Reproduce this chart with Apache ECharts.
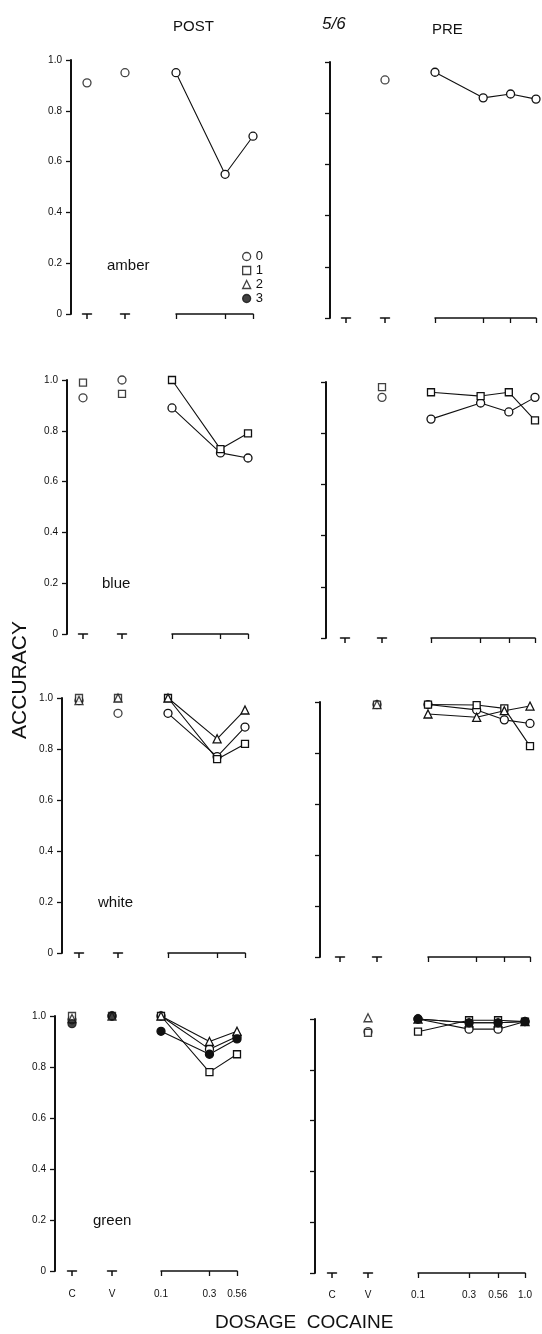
<!DOCTYPE html>
<html><head><meta charset="utf-8">
<script src="https://cdn.jsdelivr.net/npm/echarts@6/dist/echarts.min.js"></script>
<style>html,body{margin:0;padding:0;background:#fff}#c{width:542px;height:1334px}</style>
</head><body><div id="c"></div>
<script>
// ---------- DATA ----------
const SERIES_NAMES = ['0', '1', '2', '3'];
const CONTROL_CATS = ['C', 'V'];
const DOSES_POST = [0.1, 0.3, 0.56];
const DOSES_PRE = [0.1, 0.3, 0.56, 1.0];
const DOSE_TICK_LABELS = ['0.1', '0.3', '0.56', '1.0'];
const Y_TICK_LABELS = ['0', '0.2', '0.4', '0.6', '0.8', '1.0'];
const COLOR_NAMES = ['amber', 'blue', 'white', 'green'];

// control values per series: [C, V]
const AMBER_POST_CONTROL = [[0.91, 0.95]];
const AMBER_POST_DOSE = [[0.95, 0.55, 0.70]];
const AMBER_PRE_CONTROL = [[null, 0.93]];
const AMBER_PRE_DOSE = [[0.96, 0.86, 0.875, 0.855]];

const BLUE_POST_CONTROL = [[0.93, 1.0], [0.99, 0.945]];
const BLUE_POST_DOSE = [[0.89, 0.713, 0.693], [1.0, 0.728, 0.79]];
const BLUE_PRE_CONTROL = [[null, 0.94], [null, 0.98]];
const BLUE_PRE_DOSE = [[0.855, 0.918, 0.883, 0.94], [0.96, 0.945, 0.96, 0.85]];

const WHITE_POST_CONTROL = [[0.99, 0.94], [1.0, 1.0], [0.99, 1.0]];
const WHITE_POST_DOSE = [[0.94, 0.77, 0.886], [1.0, 0.76, 0.82], [1.0, 0.84, 0.953]];
const WHITE_PRE_CONTROL = [[null, 0.99], [null, 0.99], [null, 0.99]];
const WHITE_PRE_DOSE = [[0.99, 0.969, 0.93, 0.916], [0.99, 0.988, 0.975, 0.827], [0.953, 0.94, 0.966, 0.984]];

const GREEN_POST_CONTROL = [[0.985, 1.0], [1.0, 1.0], [0.99, 1.0], [0.97, 1.0]];
const GREEN_POST_DOSE = [[1.0, 0.87, 0.92], [1.0, 0.78, 0.85], [1.0, 0.90, 0.94], [0.94, 0.85, 0.91]];
const GREEN_PRE_CONTROL = [[null, 0.95], [null, 0.945], [null, 1.005], [null, null]];
const GREEN_PRE_DOSE = [[1.0, 0.96, 0.96, 0.99], [0.95, 0.995, 0.995, 0.99], [1.0, 0.985, 0.985, 0.99], [1.0, 0.985, 0.985, 0.99]];

const ROWS = [
  { post: { control: AMBER_POST_CONTROL, dose: AMBER_POST_DOSE }, pre: { control: AMBER_PRE_CONTROL, dose: AMBER_PRE_DOSE } },
  { post: { control: BLUE_POST_CONTROL, dose: BLUE_POST_DOSE }, pre: { control: BLUE_PRE_CONTROL, dose: BLUE_PRE_DOSE } },
  { post: { control: WHITE_POST_CONTROL, dose: WHITE_POST_DOSE }, pre: { control: WHITE_PRE_CONTROL, dose: WHITE_PRE_DOSE } },
  { post: { control: GREEN_POST_CONTROL, dose: GREEN_POST_DOSE }, pre: { control: GREEN_PRE_CONTROL, dose: GREEN_PRE_DOSE } }
];

// ---------- LAYOUT (pixels) ----------
const LAYOUT = {
  post: [
    { axisX: 71, top: 60, bottom: 314, cX: 87, vX: 125, d0: 176, d1: 253, xAxisY: 323, labelX: 102, labelY: 262 },
    { axisX: 67, top: 380, bottom: 634, cX: 83, vX: 122, d0: 172, d1: 248, xAxisY: 644, labelX: 97, labelY: 580 },
    { axisX: 62, top: 698, bottom: 953, cX: 79, vX: 118, d0: 168, d1: 245, xAxisY: 963, labelX: 93, labelY: 899 },
    { axisX: 55, top: 1016, bottom: 1271, cX: 72, vX: 112, d0: 161, d1: 237, xAxisY: 1281, labelX: 88, labelY: 1217 }
  ],
  pre: [
    { axisX: 330, top: 62, bottom: 318, cX: 346, vX: 385, d0: 435, d1: 536, xAxisY: 328 },
    { axisX: 326, top: 382, bottom: 638, cX: 345, vX: 382, d0: 431, d1: 535, xAxisY: 649 },
    { axisX: 320, top: 702, bottom: 957, cX: 340, vX: 377, d0: 428, d1: 530, xAxisY: 967 },
    { axisX: 315, top: 1019, bottom: 1273, cX: 332, vX: 368, d0: 418, d1: 525, xAxisY: 1282 }
  ]
};

const INK = '#111';
const FONT = 'Liberation Sans';
const SYMBOLS = ['circle', 'rect', 'triangle', 'circle'];
const SIZES = [8, 7, 8, 8];
const FILLS = ['#fff', '#fff', '#fff', INK];

function itemStyleFor(k) {
  return { color: FILLS[k], borderColor: INK, borderWidth: 1.3 };
}

const grids = [], xAxes = [], yAxes = [], series = [];
function addGrid(g, xa, ya) {
  grids.push(g);
  const i = grids.length - 1;
  xa.gridIndex = i; ya.gridIndex = i;
  xAxes.push(xa); yAxes.push(ya);
  return i;
}
const hiddenY = () => ({ type: 'value', min: 0, max: 1, show: false });

ROWS.forEach((row, r) => {
  ['post', 'pre'].forEach(side => {
    const L = LAYOUT[side][r];
    const h = L.bottom - L.top;
    const isBottom = r === ROWS.length - 1;
    const doses = side === 'post' ? DOSES_POST : DOSES_PRE;
    const ctrl = row[side].control, dose = row[side].dose;

    // frame grid carrying the y axis
    addGrid({ left: L.axisX, top: L.top, width: 1, height: h },
      { type: 'value', show: false, min: 0, max: 1 },
      {
        type: 'value', min: 0, max: 1, interval: 0.2,
        axisLine: { show: true, lineStyle: { color: INK, width: 2 } },
        axisTick: { show: true, length: 5, lineStyle: { color: INK, width: 1.3 } },
        axisLabel: {
          show: side === 'post', margin: 9, color: INK, fontFamily: FONT, fontSize: 10,
          formatter: v => Y_TICK_LABELS[Math.round(v * 5)]
        },
        splitLine: { show: false }
      });

    // control (C, V) mini grids – each axis draws a "T"
    CONTROL_CATS.forEach((cat, ci) => {
      const cx = ci === 0 ? L.cX : L.vX;
      const gi = addGrid({ left: cx - 4.5, top: L.top, width: 9, height: h },
        {
          type: 'category', data: [cat], boundaryGap: true, offset: L.xAxisY - L.bottom,
          axisLine: { show: true, lineStyle: { color: INK, width: 1.5 } },
          axisTick: { show: true, alignWithLabel: true, length: 5, lineStyle: { color: INK, width: 1.5 } },
          axisLabel: { show: isBottom, margin: 8, color: INK, fontFamily: FONT, fontSize: 10 }
        },
        hiddenY());
      ctrl.forEach((vals, k) => {
        if (vals[ci] == null) return;
        series.push({
          type: 'scatter', name: SERIES_NAMES[k], xAxisIndex: gi, yAxisIndex: gi,
          data: [[cat, vals[ci]]], symbol: SYMBOLS[k], symbolSize: SIZES[k],
          itemStyle: itemStyleFor(k), clip: false
        });
      });
    });

    // dose grid on a log axis
    const gi = addGrid({ left: L.d0, top: L.top, width: L.d1 - L.d0, height: h },
      {
        type: 'log', logBase: 10, min: doses[0], max: doses[doses.length - 1],
        offset: L.xAxisY - L.bottom,
        axisLine: { show: true, lineStyle: { color: INK, width: 1.5 } },
        axisTick: { show: true, customValues: doses, length: 5, lineStyle: { color: INK, width: 1.3 } },
        axisLabel: {
          show: isBottom, customValues: doses, margin: 8, color: INK, fontFamily: FONT, fontSize: 10,
          formatter: v => {
            let best = 0;
            DOSES_PRE.forEach((d, i) => { if (Math.abs(d - v) < Math.abs(DOSES_PRE[best] - v)) best = i; });
            return DOSE_TICK_LABELS[best];
          }
        },
        splitLine: { show: false }, minorTick: { show: false }
      },
      hiddenY());
    dose.forEach((vals, k) => {
      series.push({
        type: 'line', name: SERIES_NAMES[k], xAxisIndex: gi, yAxisIndex: gi,
        data: doses.map((d, i) => [d, vals[i]]),
        symbol: SYMBOLS[k], symbolSize: SIZES[k], showSymbol: true,
        lineStyle: { color: INK, width: 1.1 }, itemStyle: itemStyleFor(k), clip: false
      });
    });
  });
});

const titles = [
  { text: 'POST', left: 168, top: 14, textStyle: { fontFamily: FONT, fontSize: 15, fontWeight: 'normal', color: INK } },
  { text: '5/6', left: 317, top: 11, textStyle: { fontFamily: FONT, fontSize: 17, fontStyle: 'italic', fontWeight: 'normal', color: INK } },
  { text: 'PRE', left: 427, top: 17, textStyle: { fontFamily: FONT, fontSize: 15, fontWeight: 'normal', color: INK } },
  { text: 'DOSAGE  COCAINE', left: 210, top: 1308, textStyle: { fontFamily: FONT, fontSize: 19, fontWeight: 'normal', color: INK } }
];
COLOR_NAMES.forEach((name, r) => {
  const L = LAYOUT.post[r];
  titles.push({ text: name, left: L.labelX, top: L.labelY - 9, textStyle: { fontFamily: FONT, fontSize: 15, fontWeight: 'normal', color: INK } });
});

const option = {
  animation: false,
  backgroundColor: '#fff',
  title: titles,
  legend: {
    orient: 'vertical', left: 237, top: 245, itemWidth: 8, itemHeight: 8, itemGap: 1,
    selectedMode: false,
    textStyle: { fontFamily: FONT, fontSize: 13, color: INK },
    data: SERIES_NAMES.map((n, k) => ({ name: n, icon: ['circle', 'rect', 'triangle', 'circle'][k], itemStyle: itemStyleFor(k) }))
  },
  graphic: [{
    type: 'text', x: 20, y: 680, rotation: Math.PI / 2,
    style: { text: 'ACCURACY', font: '21px "Liberation Sans"', fill: INK, align: 'center', verticalAlign: 'middle' }
  }],
  grid: grids, xAxis: xAxes, yAxis: yAxes, series: series
};

const chart = echarts.init(document.getElementById('c'));
chart.setOption(option);
</script></body></html>
